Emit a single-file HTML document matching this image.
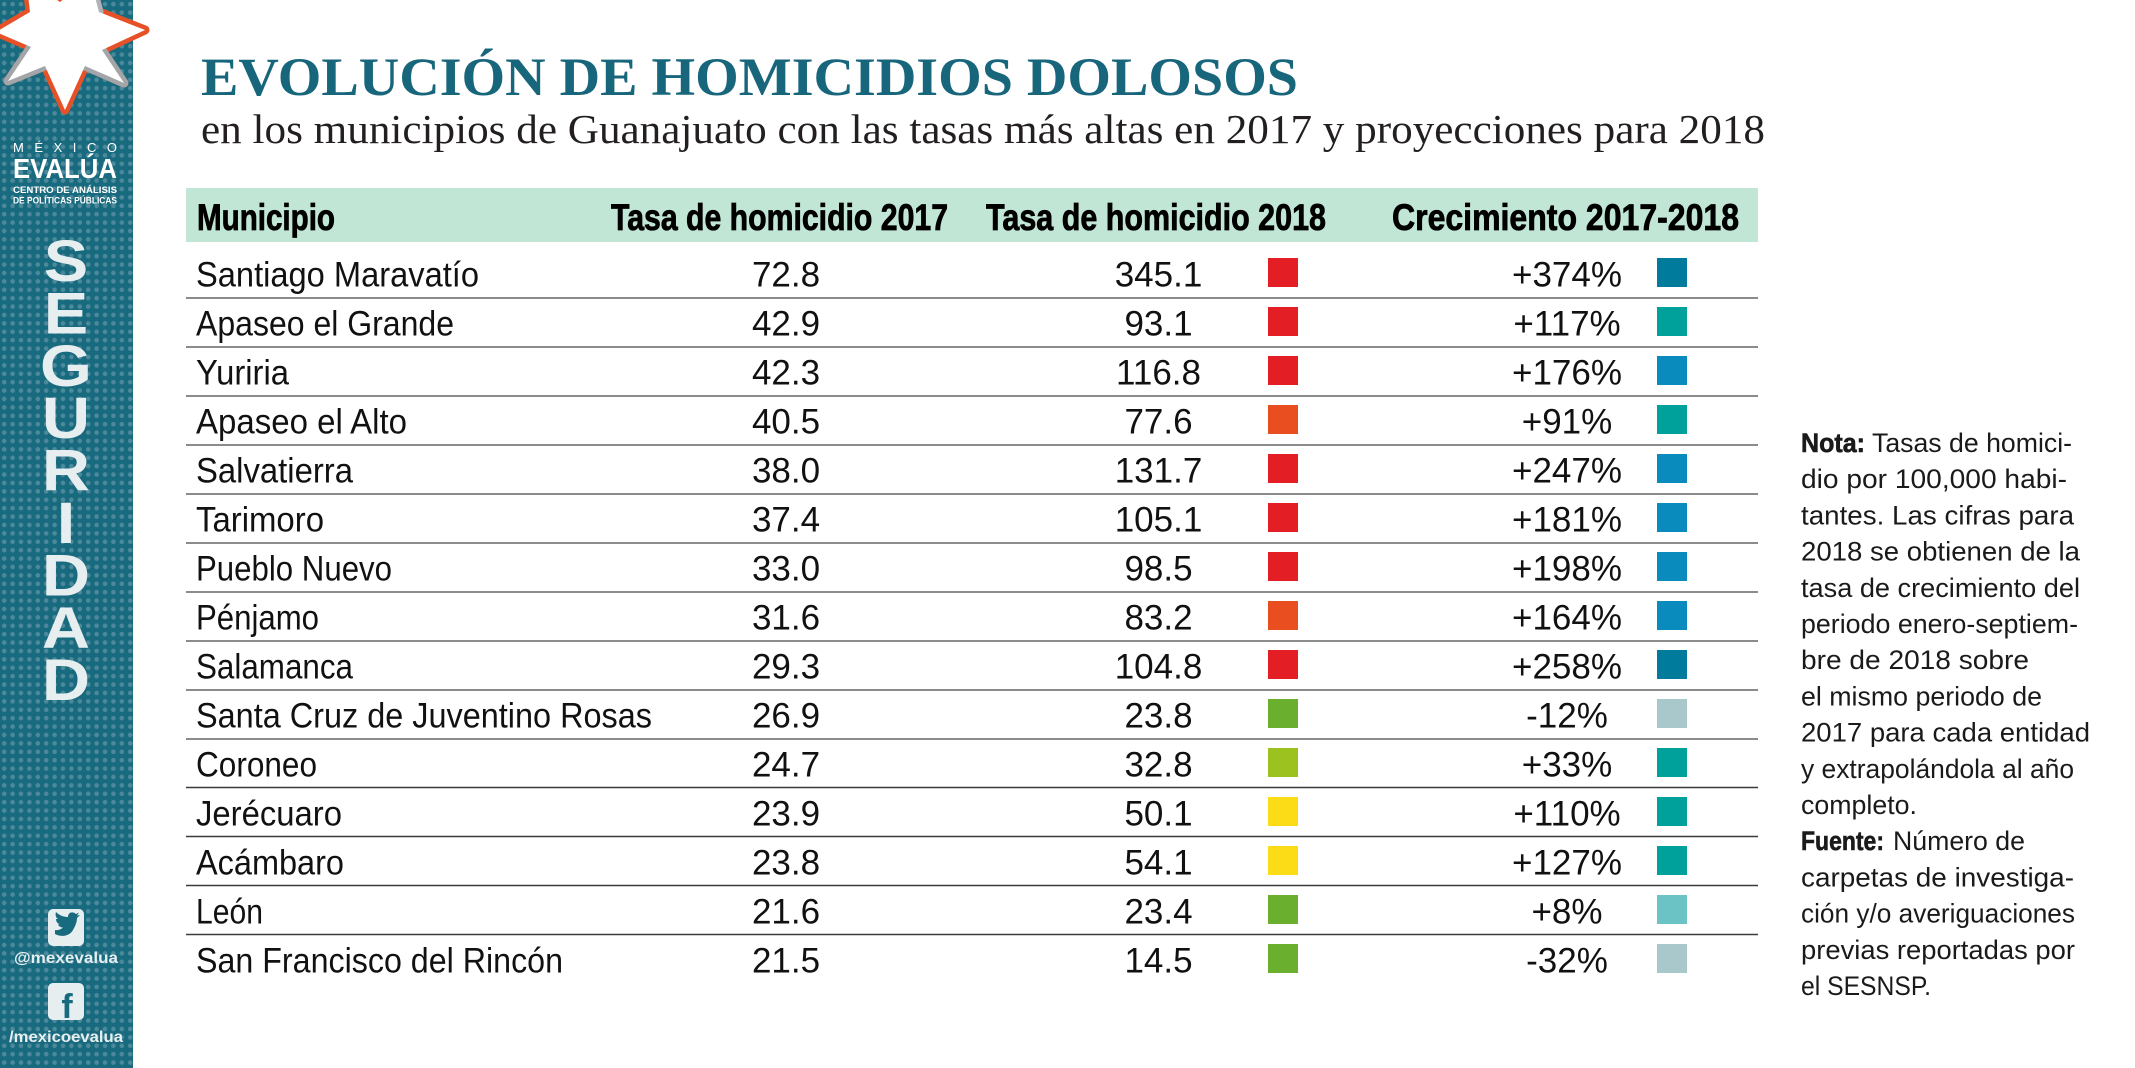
<!DOCTYPE html>
<html>
<head>
<meta charset="utf-8">
<style>
html,body{margin:0;padding:0;background:#ffffff;}
svg{display:block;}
</style>
</head>
<body>
<svg xmlns="http://www.w3.org/2000/svg" width="2135" height="1068" viewBox="0 0 2135 1068">
  <defs>
    <pattern id="dots" x="0" y="0" width="8.4" height="8.4" patternUnits="userSpaceOnUse">
      <rect width="8.4" height="8.4" fill="#186a7f"/>
      <circle cx="4.2" cy="4.2" r="2.3" fill="#4d899a"/>
    </pattern>
  </defs>
  <rect x="0" y="0" width="2135" height="1068" fill="#ffffff"/>

  <!-- Sidebar -->
  <rect x="0" y="0" width="133" height="1068" fill="url(#dots)"/>

  <!-- Star logo -->
  <path d="M -4 32 L 30 12 L 26 -22 L 60 2 L 90 -22 L 99 12 L 145 30 L 102 50 L 124 83 L 85 66 L 65 110 L 45 66 L 8 81 L 31 47 Z"
        fill="#ffffff" stroke="#e65127" stroke-width="9" stroke-linejoin="round"/>
  <polyline points="31,47 8,81 45,66" fill="none" stroke="#a3a5a8" stroke-width="9" stroke-linejoin="round" stroke-linecap="round"/>
  <polyline points="102,50 124,83 85,66" fill="none" stroke="#a3a5a8" stroke-width="9" stroke-linejoin="round" stroke-linecap="round"/>
  <polyline points="90,-22 99,12" fill="none" stroke="#b0b2b5" stroke-width="9" stroke-linecap="round"/>
  <path d="M -4 32 L 30 12 L 26 -22 L 60 2 L 90 -22 L 99 12 L 145 30 L 102 50 L 124 83 L 85 66 L 65 110 L 45 66 L 8 81 L 31 47 Z" fill="#ffffff"/>

  <!-- Logo text -->
  <g font-family="'Liberation Sans', sans-serif" fill="#ffffff">
    <text x="13" y="152" font-size="13" textLength="104" lengthAdjust="spacing">MÉXICO</text>
    <text x="13" y="178" font-size="28" font-weight="bold" textLength="104" lengthAdjust="spacingAndGlyphs">EVALÚA</text>
    <text x="13" y="193" font-size="9.5" font-weight="bold" textLength="104" lengthAdjust="spacingAndGlyphs">CENTRO DE ANÁLISIS</text>
    <text x="13" y="203.5" font-size="9.5" font-weight="bold" textLength="104" lengthAdjust="spacingAndGlyphs">DE POLÍTICAS PÚBLICAS</text>
  </g>

  <!-- SEGURIDAD -->
  <g transform="translate(66,0) scale(1.15,1)" font-family="'Liberation Sans', sans-serif" font-weight="bold" font-size="58" fill="#e6eef0" text-anchor="middle">
    <text x="0" y="281">S</text>
    <text x="0" y="333.4">E</text>
    <text x="0" y="385.8">G</text>
    <text x="0" y="438.2">U</text>
    <text x="0" y="490.6">R</text>
    <text x="0" y="543">I</text>
    <text x="0" y="595.4">D</text>
    <text x="0" y="647.8">A</text>
    <text x="0" y="700.2">D</text>
  </g>

  <!-- Social -->
  <rect x="48" y="909" width="36" height="37" rx="5" fill="#e6eef0"/>
  <path d="M55 934 C60 937 69 937 73 930 C76 925 77 921 77 918 L80 915 L77 915.5 L79 912.5 L76 914 C73 911 68 912 68 917 C63 917 59 915 56 912 C55 915 56 918 58 919 L56 919 C56 922 58 924 60 924 L58 924.5 C59 926.5 61 927.5 63 927.5 C61 929.5 58 930.5 55 930 Z" fill="#186a7f"/>
  <text x="14" y="963" font-family="'Liberation Sans', sans-serif" font-weight="bold" font-size="16" fill="#e6eef0" textLength="104" lengthAdjust="spacingAndGlyphs">@mexevalua</text>
  <rect x="48" y="983" width="36" height="37" rx="5" fill="#e6eef0"/>
  <text x="67" y="1018" font-family="'Liberation Sans', sans-serif" font-weight="bold" font-size="34" fill="#186a7f" text-anchor="middle">f</text>
  <text x="9" y="1042" font-family="'Liberation Sans', sans-serif" font-weight="bold" font-size="16" fill="#e6eef0" textLength="114" lengthAdjust="spacingAndGlyphs">/mexicoevalua</text>

  <!-- Title -->
  <text x="201" y="95" font-family="'Liberation Serif', serif" font-weight="bold" font-size="54" fill="#17667b" textLength="1097" lengthAdjust="spacingAndGlyphs">EVOLUCIÓN DE HOMICIDIOS DOLOSOS</text>
  <text x="201" y="143" font-family="'Liberation Serif', serif" font-size="41" fill="#231f20" textLength="1564" lengthAdjust="spacingAndGlyphs">en los municipios de Guanajuato con las tasas más altas en 2017 y proyecciones para 2018</text>

  <!-- Header band -->
  <rect x="186" y="188" width="1572" height="54" fill="#c2e6d5"/>
  <g font-family="'Liberation Sans', sans-serif" font-weight="bold" font-size="37" fill="#000000" stroke="#000000" stroke-width="0.8">
    <text x="197" y="230" textLength="138" lengthAdjust="spacingAndGlyphs">Municipio</text>
    <text x="611" y="230" textLength="337" lengthAdjust="spacingAndGlyphs">Tasa de homicidio 2017</text>
    <text x="986" y="230" textLength="340" lengthAdjust="spacingAndGlyphs">Tasa de homicidio 2018</text>
    <text x="1392" y="230" textLength="347" lengthAdjust="spacingAndGlyphs">Crecimiento 2017-2018</text>
  </g>

  <!-- Row lines -->
  <g stroke="#8c8c8c" stroke-width="2">
    <line x1="186" x2="1758" y1="298" y2="298"/>
    <line x1="186" x2="1758" y1="347" y2="347"/>
    <line x1="186" x2="1758" y1="396" y2="396"/>
    <line x1="186" x2="1758" y1="445" y2="445"/>
    <line x1="186" x2="1758" y1="494" y2="494"/>
    <line x1="186" x2="1758" y1="543" y2="543"/>
    <line x1="186" x2="1758" y1="592" y2="592"/>
    <line x1="186" x2="1758" y1="641" y2="641"/>
    <line x1="186" x2="1758" y1="690" y2="690"/>
    <line x1="186" x2="1758" y1="739" y2="739"/>
  </g>
  <g stroke="#3a3a3a" stroke-width="1.5">
    <line x1="186" x2="1758" y1="787.5" y2="787.5"/>
    <line x1="186" x2="1758" y1="836.5" y2="836.5"/>
    <line x1="186" x2="1758" y1="885.5" y2="885.5"/>
    <line x1="186" x2="1758" y1="934.5" y2="934.5"/>
  </g>

  <!-- Municipality names -->
  <g font-family="'Liberation Sans', sans-serif" font-size="35" fill="#111111">
    <text x="196" y="286.5" textLength="283" lengthAdjust="spacingAndGlyphs">Santiago Maravatío</text>
    <text x="196" y="335.5" textLength="258" lengthAdjust="spacingAndGlyphs">Apaseo el Grande</text>
    <text x="196" y="384.5" textLength="93" lengthAdjust="spacingAndGlyphs">Yuriria</text>
    <text x="196" y="433.5" textLength="211" lengthAdjust="spacingAndGlyphs">Apaseo el Alto</text>
    <text x="196" y="482.5" textLength="157" lengthAdjust="spacingAndGlyphs">Salvatierra</text>
    <text x="196" y="531.5" textLength="128" lengthAdjust="spacingAndGlyphs">Tarimoro</text>
    <text x="196" y="580.5" textLength="196" lengthAdjust="spacingAndGlyphs">Pueblo Nuevo</text>
    <text x="196" y="629.5" textLength="123" lengthAdjust="spacingAndGlyphs">Pénjamo</text>
    <text x="196" y="678.5" textLength="157" lengthAdjust="spacingAndGlyphs">Salamanca</text>
    <text x="196" y="727.5" textLength="456" lengthAdjust="spacingAndGlyphs">Santa Cruz de Juventino Rosas</text>
    <text x="196" y="776.5" textLength="121" lengthAdjust="spacingAndGlyphs">Coroneo</text>
    <text x="196" y="825.5" textLength="146" lengthAdjust="spacingAndGlyphs">Jerécuaro</text>
    <text x="196" y="874.5" textLength="148" lengthAdjust="spacingAndGlyphs">Acámbaro</text>
    <text x="196" y="923.5" textLength="67" lengthAdjust="spacingAndGlyphs">León</text>
    <text x="196" y="972.5" textLength="367" lengthAdjust="spacingAndGlyphs">San Francisco del Rincón</text>
  </g>

  <!-- 2017 values -->
  <g font-family="'Liberation Sans', sans-serif" font-size="35" fill="#111111" text-anchor="middle">
    <text x="786" y="286.5">72.8</text>
    <text x="786" y="335.5">42.9</text>
    <text x="786" y="384.5">42.3</text>
    <text x="786" y="433.5">40.5</text>
    <text x="786" y="482.5">38.0</text>
    <text x="786" y="531.5">37.4</text>
    <text x="786" y="580.5">33.0</text>
    <text x="786" y="629.5">31.6</text>
    <text x="786" y="678.5">29.3</text>
    <text x="786" y="727.5">26.9</text>
    <text x="786" y="776.5">24.7</text>
    <text x="786" y="825.5">23.9</text>
    <text x="786" y="874.5">23.8</text>
    <text x="786" y="923.5">21.6</text>
    <text x="786" y="972.5">21.5</text>
  </g>

  <!-- 2018 values -->
  <g font-family="'Liberation Sans', sans-serif" font-size="35" fill="#111111" text-anchor="middle">
    <text x="1158.5" y="286.5">345.1</text>
    <text x="1158.5" y="335.5">93.1</text>
    <text x="1158.5" y="384.5">116.8</text>
    <text x="1158.5" y="433.5">77.6</text>
    <text x="1158.5" y="482.5">131.7</text>
    <text x="1158.5" y="531.5">105.1</text>
    <text x="1158.5" y="580.5">98.5</text>
    <text x="1158.5" y="629.5">83.2</text>
    <text x="1158.5" y="678.5">104.8</text>
    <text x="1158.5" y="727.5">23.8</text>
    <text x="1158.5" y="776.5">32.8</text>
    <text x="1158.5" y="825.5">50.1</text>
    <text x="1158.5" y="874.5">54.1</text>
    <text x="1158.5" y="923.5">23.4</text>
    <text x="1158.5" y="972.5">14.5</text>
  </g>

  <!-- 2018 squares -->
  <g>
    <rect x="1268" y="258" width="30" height="29" fill="#e31e24"/>
    <rect x="1268" y="307" width="30" height="29" fill="#e31e24"/>
    <rect x="1268" y="356" width="30" height="29" fill="#e31e24"/>
    <rect x="1268" y="405" width="30" height="29" fill="#e84e1f"/>
    <rect x="1268" y="454" width="30" height="29" fill="#e31e24"/>
    <rect x="1268" y="503" width="30" height="29" fill="#e31e24"/>
    <rect x="1268" y="552" width="30" height="29" fill="#e31e24"/>
    <rect x="1268" y="601" width="30" height="29" fill="#e84e1f"/>
    <rect x="1268" y="650" width="30" height="29" fill="#e31e24"/>
    <rect x="1268" y="699" width="30" height="29" fill="#6ab02e"/>
    <rect x="1268" y="748" width="30" height="29" fill="#9cc21f"/>
    <rect x="1268" y="797" width="30" height="29" fill="#fcdc17"/>
    <rect x="1268" y="846" width="30" height="29" fill="#fcdc17"/>
    <rect x="1268" y="895" width="30" height="29" fill="#6ab02e"/>
    <rect x="1268" y="944" width="30" height="29" fill="#6ab02e"/>
  </g>

  <!-- Growth values -->
  <g font-family="'Liberation Sans', sans-serif" font-size="35" fill="#111111" text-anchor="middle">
    <text x="1567" y="286.5">+374%</text>
    <text x="1567" y="335.5">+117%</text>
    <text x="1567" y="384.5">+176%</text>
    <text x="1567" y="433.5">+91%</text>
    <text x="1567" y="482.5">+247%</text>
    <text x="1567" y="531.5">+181%</text>
    <text x="1567" y="580.5">+198%</text>
    <text x="1567" y="629.5">+164%</text>
    <text x="1567" y="678.5">+258%</text>
    <text x="1567" y="727.5">-12%</text>
    <text x="1567" y="776.5">+33%</text>
    <text x="1567" y="825.5">+110%</text>
    <text x="1567" y="874.5">+127%</text>
    <text x="1567" y="923.5">+8%</text>
    <text x="1567" y="972.5">-32%</text>
  </g>

  <!-- Growth squares -->
  <g>
    <rect x="1657" y="258" width="30" height="29" fill="#007b9b"/>
    <rect x="1657" y="307" width="30" height="29" fill="#00a19b"/>
    <rect x="1657" y="356" width="30" height="29" fill="#0a8bbd"/>
    <rect x="1657" y="405" width="30" height="29" fill="#00a19b"/>
    <rect x="1657" y="454" width="30" height="29" fill="#0a8bbd"/>
    <rect x="1657" y="503" width="30" height="29" fill="#0a8bbd"/>
    <rect x="1657" y="552" width="30" height="29" fill="#0a8bbd"/>
    <rect x="1657" y="601" width="30" height="29" fill="#0a8bbd"/>
    <rect x="1657" y="650" width="30" height="29" fill="#007b9b"/>
    <rect x="1657" y="699" width="30" height="29" fill="#a9c8cc"/>
    <rect x="1657" y="748" width="30" height="29" fill="#00a19b"/>
    <rect x="1657" y="797" width="30" height="29" fill="#00a19b"/>
    <rect x="1657" y="846" width="30" height="29" fill="#00a19b"/>
    <rect x="1657" y="895" width="30" height="29" fill="#6cc3c6"/>
    <rect x="1657" y="944" width="30" height="29" fill="#a9c8cc"/>
  </g>

  <!-- Note -->
  <g font-family="'Liberation Sans', sans-serif" font-size="27" fill="#1a1a1a">
    <text x="1801" y="452" font-weight="bold" stroke="#1a1a1a" stroke-width="0.6" textLength="64" lengthAdjust="spacingAndGlyphs">Nota:</text>
    <text x="1872" y="452" textLength="200" lengthAdjust="spacingAndGlyphs">Tasas de homici-</text>
    <text x="1801" y="488.2" textLength="266" lengthAdjust="spacingAndGlyphs">dio por 100,000 habi-</text>
    <text x="1801" y="524.4" textLength="273" lengthAdjust="spacingAndGlyphs">tantes. Las cifras para</text>
    <text x="1801" y="560.6" textLength="279" lengthAdjust="spacingAndGlyphs">2018 se obtienen de la</text>
    <text x="1801" y="596.8" textLength="279" lengthAdjust="spacingAndGlyphs">tasa de crecimiento del</text>
    <text x="1801" y="633" textLength="277" lengthAdjust="spacingAndGlyphs">periodo enero-septiem-</text>
    <text x="1801" y="669.2" textLength="228" lengthAdjust="spacingAndGlyphs">bre de 2018 sobre</text>
    <text x="1801" y="705.4" textLength="241" lengthAdjust="spacingAndGlyphs">el mismo periodo de</text>
    <text x="1801" y="741.6" textLength="289" lengthAdjust="spacingAndGlyphs">2017 para cada entidad</text>
    <text x="1801" y="777.8" textLength="273" lengthAdjust="spacingAndGlyphs">y extrapolándola al año</text>
    <text x="1801" y="814" textLength="116" lengthAdjust="spacingAndGlyphs">completo.</text>
    <text x="1801" y="850.2" font-weight="bold" stroke="#1a1a1a" stroke-width="0.6" textLength="83" lengthAdjust="spacingAndGlyphs">Fuente:</text>
    <text x="1893" y="850.2" textLength="132" lengthAdjust="spacingAndGlyphs">Número de</text>
    <text x="1801" y="886.4" textLength="273" lengthAdjust="spacingAndGlyphs">carpetas de  investiga-</text>
    <text x="1801" y="922.6" textLength="274" lengthAdjust="spacingAndGlyphs">ción y/o averiguaciones</text>
    <text x="1801" y="958.8" textLength="274" lengthAdjust="spacingAndGlyphs">previas reportadas por</text>
    <text x="1801" y="995" textLength="130" lengthAdjust="spacingAndGlyphs">el SESNSP.</text>
  </g>
</svg>
</body>
</html>
